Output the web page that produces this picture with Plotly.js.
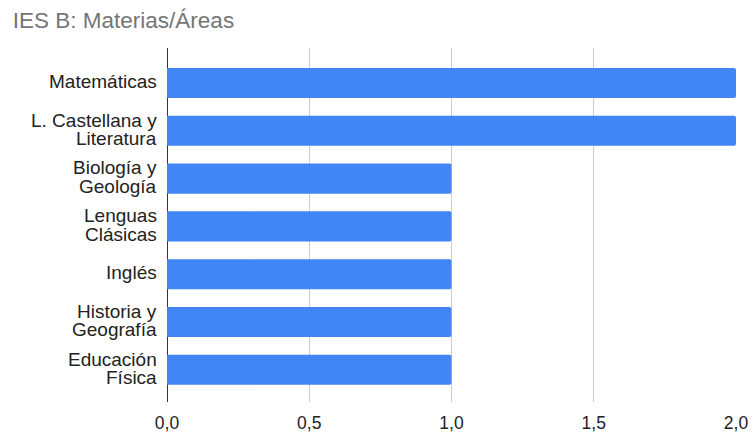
<!DOCTYPE html>
<html>
<head>
<meta charset="utf-8">
<script src="https://cdn.plot.ly/plotly-3.0.1.min.js"></script>
<style>html,body{margin:0;padding:0;background:#fff}#chart{width:753px;height:436px}</style>
</head>
<body>
<div id="chart"></div>
<script>
const categories = [
  "Matemáticas",
  "L. Castellana y<br>Literatura",
  "Biología y<br>Geología",
  "Lenguas<br>Clásicas",
  "Inglés",
  "Historia y<br>Geografía",
  "Educación<br>Física"
];
const values = [2, 2, 1, 1, 1, 1, 1];
const xTicks = [0, 0.5, 1, 1.5, 2];

const font = "Liberation Sans, Arial, sans-serif";
const labelSize = 19;

// category labels drawn as one annotation per line for the reference's tight line spacing
const annotations = [];
categories.forEach(function (cat) {
  const lines = cat.split("<br>");
  const n = lines.length;
  lines.forEach(function (line, i) {
    const offset = (n - 1) / 2 - i;
    annotations.push({
      xref: "paper", x: 0, xanchor: "right", xshift: -9,
      yref: "y", y: cat, yanchor: "middle", yshift: 1.5 + offset * 18.5,
      borderpad: 0,
      text: line, showarrow: false, align: "right",
      font: {family: font, size: labelSize, color: "#222"}
    });
  });
});

Plotly.newPlot("chart", [{
  type: "bar",
  orientation: "h",
  y: categories,
  x: values,
  width: 0.63,
  marker: {color: "#4285F4", cornerradius: 2, line: {width: 0}},
  hoverinfo: "skip"
}], {
  width: 753, height: 436,
  margin: {l: 167, r: 17, t: 48, b: 34},
  paper_bgcolor: "#fff", plot_bgcolor: "#fff",
  separators: ",.",
  showlegend: false,
  font: {family: font, size: 17, color: "#222"},
  title: {text: "IES B: Materias/Áreas", x: 0.017, xanchor: "left", y: 0.953, yanchor: "middle",
          font: {family: font, size: 22.5, color: "#757575"}},
  annotations: annotations,
  xaxis: {
    range: [0, 2], tickvals: xTicks, tickformat: ".1f",
    showgrid: true, gridcolor: "#cccccc", gridwidth: 1,
    zeroline: true, zerolinecolor: "#333", zerolinewidth: 1,
    showline: false, ticks: "", ticklabelstandoff: 8,
    tickfont: {family: font, size: 17.5, color: "#222"}
  },
  yaxis: {
    type: "category",
    range: [6.674, -0.732],
    showgrid: false, zeroline: false, showline: false, ticks: "",
    showticklabels: false
  }
}, {displayModeBar: false, staticPlot: true});
</script>
</body>
</html>
